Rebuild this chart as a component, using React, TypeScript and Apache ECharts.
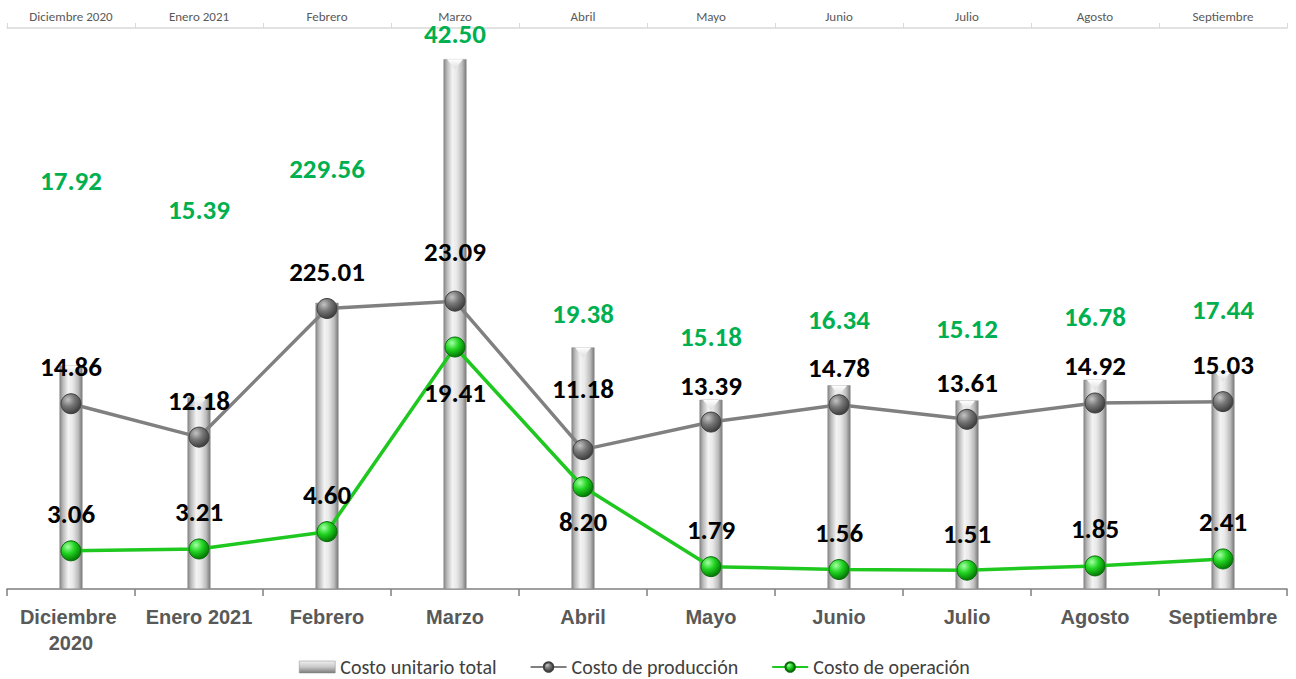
import React, { useEffect, useRef } from "react";
import * as echarts from "echarts";

const categories = [
  "Diciembre 2020",
  "Enero 2021",
  "Febrero",
  "Marzo",
  "Abril",
  "Mayo",
  "Junio",
  "Julio",
  "Agosto",
  "Septiembre",
];
const costoTotal = [17.92, 15.39, 22.956, 42.5, 19.38, 15.18, 16.34, 15.12, 16.78, 17.44];
const costoTotalLabels = ["17.92", "15.39", "229.56", "42.50", "19.38", "15.18", "16.34", "15.12", "16.78", "17.44"];
const costoProduccion = [14.86, 12.18, 22.501, 23.09, 11.18, 13.39, 14.78, 13.61, 14.92, 15.03];
const costoProduccionLabels = ["14.86", "12.18", "225.01", "23.09", "11.18", "13.39", "14.78", "13.61", "14.92", "15.03"];
const costoOperacion = [3.06, 3.21, 4.6, 19.41, 8.2, 1.79, 1.56, 1.51, 1.85, 2.41];

// label placement (styling only)
const totalLabelDist = [172, 174, 121, 12, 20, 50, 52, 59, 50, 49];
const prodLabelDist = [13, 13, 13, 26, 37, 13, 13, 13, 13, 13];
const opLabelPos = ["top", "top", "top", "bottom", "bottom", "top", "top", "top", "top", "top"];
const opLabelDist = [13, 13, 13, 21, 11, 13, 13, 13, 13, 13];

const LABEL_FONT = "Carlito, Lato, 'Open Sans', sans-serif";

export default function App() {
  const ref = useRef<HTMLDivElement>(null);
  useEffect(() => {
    document.body.style.margin = "0";
    if (!ref.current) return;
    const chart = echarts.init(ref.current, null, { renderer: "svg" });

    const barGrad = new echarts.graphic.LinearGradient(0, 0, 1, 0, [
      { offset: 0, color: "#858585" },
      { offset: 0.14, color: "#b8b8b8" },
      { offset: 0.38, color: "#f3f3f3" },
      { offset: 0.58, color: "#e8e8e8" },
      { offset: 0.82, color: "#bcbcbc" },
      { offset: 1, color: "#777777" },
    ]);
    const legendBarGrad = new echarts.graphic.LinearGradient(0, 0, 0, 1, [
      { offset: 0, color: "#f0f0f0" },
      { offset: 0.5, color: "#c8c8c8" },
      { offset: 1, color: "#7a7a7a" },
    ]);
    const grayBall = new echarts.graphic.RadialGradient(0.35, 0.3, 0.75, [
      { offset: 0, color: "#c4c4c4" },
      { offset: 0.45, color: "#777777" },
      { offset: 1, color: "#383838" },
    ]);
    const greenBall = new echarts.graphic.RadialGradient(0.35, 0.3, 0.75, [
      { offset: 0, color: "#a6ffa6" },
      { offset: 0.45, color: "#22d422" },
      { offset: 1, color: "#007000" },
    ]);
    const capGrad = new echarts.graphic.LinearGradient(0, 0, 0, 1, [
      { offset: 0, color: "#ffffff" },
      { offset: 1, color: "#dcdcdc" },
    ]);

    const option: any = {
      animation: false,
      grid: { left: 7, right: 9, top: 28, bottom: 90 },
      legend: {
        left: 299,
        top: 656,
        padding: 0,
        itemWidth: 36,
        itemHeight: 12,
        itemGap: 33,
        textStyle: { fontFamily: LABEL_FONT, fontSize: 20, lineHeight: 22, color: "#404040" },
        data: [
          { name: "Costo unitario total", icon: "rect", itemStyle: { color: legendBarGrad, borderColor: "#8a8a8a", borderWidth: 0.5 } },
          "Costo de producción",
          "Costo de operación",
        ],
      },
      xAxis: [
        {
          type: "category",
          data: categories,
          position: "bottom",
          axisLine: { lineStyle: { color: "#7f7f7f", width: 1.5 } },
          axisTick: { show: true, length: 7, lineStyle: { color: "#7f7f7f", width: 1.5 } },
          axisLabel: {
            margin: 15,
            fontFamily: "'Liberation Sans', Arial, sans-serif",
            fontWeight: "bold",
            fontSize: 20,
            color: "#595959",
            lineHeight: 26,
            width: 124,
            overflow: "break",
            interval: 0,
          },
        },
        {
          type: "category",
          data: categories,
          position: "top",
          axisLine: { lineStyle: { color: "#d9d9d9", width: 1.5 } },
          axisTick: { show: true, length: 5, lineStyle: { color: "#d9d9d9" } },
          axisLabel: {
            margin: 5,
            fontFamily: LABEL_FONT,
            fontSize: 13,
            color: "#595959",
            interval: 0,
          },
        },
      ],
      yAxis: {
        type: "value",
        min: 0,
        max: 45,
        show: false,
        splitLine: { show: false },
      },
      series: [
        {
          name: "Costo unitario total",
          type: "bar",
          barWidth: 23,
          itemStyle: { color: barGrad, borderColor: "#8a8a8a", borderWidth: 0.5 },
          data: costoTotal.map((v, i) => ({
            value: v,
            label: {
              show: true,
              position: "top",
              distance: totalLabelDist[i],
              formatter: () => costoTotalLabels[i],
              fontFamily: LABEL_FONT,
              fontWeight: "bold",
              fontSize: 27,
              color: "#00b050",
            },
          })),
          z: 2,
        },
        {
          name: "cap",
          type: "pictorialBar",
          symbol: "path://M0,0 L24,0 L12,11 Z",
          symbolSize: [16, 10],
          symbolPosition: "end",
          symbolOffset: [0, 0],
          itemStyle: { color: capGrad, borderColor: "#a8a8a8", borderWidth: 0.5 },
          data: costoTotal,
          silent: true,
          z: 3,
          tooltip: { show: false },
        },
        {
          name: "Costo de producción",
          type: "line",
          symbol: "circle",
          symbolSize: 20,
          lineStyle: { color: "#808080", width: 3.5 },
          itemStyle: { color: grayBall, borderColor: "#404040", borderWidth: 1 },
          data: costoProduccion.map((v, i) => ({
            value: v,
            label: {
              show: true,
              position: "top",
              distance: prodLabelDist[i],
              formatter: () => costoProduccionLabels[i],
              fontFamily: LABEL_FONT,
              fontWeight: "bold",
              fontSize: 27,
              color: "#000000",
            },
          })),
          z: 5,
        },
        {
          name: "Costo de operación",
          type: "line",
          symbol: "circle",
          symbolSize: 20,
          lineStyle: { color: "#1ec81e", width: 3.5 },
          itemStyle: { color: greenBall, borderColor: "#0b6b0b", borderWidth: 1 },
          data: costoOperacion.map((v, i) => ({
            value: v,
            label: {
              show: true,
              position: opLabelPos[i],
              distance: opLabelDist[i],
              formatter: () => v.toFixed(2),
              fontFamily: LABEL_FONT,
              fontWeight: "bold",
              fontSize: 27,
              color: "#000000",
            },
          })),
          z: 6,
        },
      ],
    };
    chart.setOption(option);
    return () => chart.dispose();
  }, []);
  return <div ref={ref} style={{ width: 1296, height: 679 }} />;
}
